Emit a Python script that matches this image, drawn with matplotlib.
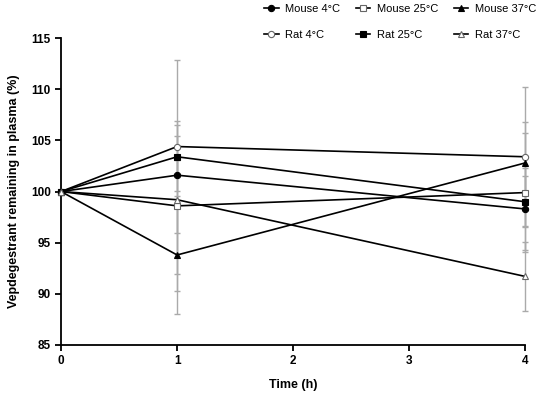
import matplotlib
matplotlib.use("Agg")
import matplotlib.pyplot as plt

plt.rcParams['font.family'] = ['Liberation Sans', 'DejaVu Sans']

time = [0, 1, 4]

mouse_4 = [100, 101.6, 98.3]
mouse_4_sd = [0, 1.5, 4.0]
mouse_25 = [100, 98.6, 99.9]
mouse_25_sd = [0, 8.3, 5.8]
mouse_37 = [100, 93.8, 102.8]
mouse_37_sd = [0, 5.8, 4.0]
rat_4 = [100, 104.4, 103.4]
rat_4_sd = [0, 8.5, 6.8]
rat_25 = [100, 103.4, 99.0]
rat_25_sd = [0, 2.0, 2.5]
rat_37 = [100, 99.2, 91.7]
rat_37_sd = [0, 7.3, 3.4]

series = [
    ("Mouse 4\u00b0C", mouse_4, mouse_4_sd, 'o', 'black'),
    ("Rat 4\u00b0C", rat_4, rat_4_sd, 'o', 'white'),
    ("Mouse 25\u00b0C", mouse_25, mouse_25_sd, 's', 'white'),
    ("Rat 25\u00b0C", rat_25, rat_25_sd, 's', 'black'),
    ("Mouse 37\u00b0C", mouse_37, mouse_37_sd, '^', 'black'),
    ("Rat 37\u00b0C", rat_37, rat_37_sd, '^', 'white'),
]

fig = plt.figure(figsize=(5.5, 3.97), dpi=100)
ax = fig.add_axes([0.111, 0.131, 0.844, 0.773])

for name, vals, sd, mk, fc in series:
    eb = ax.errorbar(time, vals, yerr=sd, fmt='none', ecolor='#aaaaaa',
                     elinewidth=1, capsize=2.5, capthick=1, zorder=1)
    for part in eb.lines[1] + eb.lines[2]:
        part.set_clip_on(False)
for name, vals, sd, mk, fc in series:
    ec = 'black' if fc == 'black' else '#666666'
    ax.plot(time, vals, color='black', lw=1.2, marker=mk, markersize=4.5,
            markerfacecolor=fc, markeredgecolor=ec, markeredgewidth=0.8,
            label=name, zorder=3, clip_on=False)

ax.set_xlim(0, 4)
ax.set_ylim(85, 115)
ax.set_xticks([0, 1, 2, 3, 4])
ax.set_yticks([85, 90, 95, 100, 105, 110, 115])
ax.spines['top'].set_visible(False)
ax.spines['right'].set_visible(False)
for s in ['left', 'bottom']:
    ax.spines[s].set_linewidth(1.3)
ax.tick_params(direction='out', length=4, width=1.3, labelsize=8.5)
for lab in ax.get_xticklabels() + ax.get_yticklabels():
    lab.set_fontweight('bold')
ax.set_xlabel("Time (h)", fontsize=9, fontweight='bold', labelpad=8)
ax.set_ylabel("Vepdegestrant remaining in plasma (%)", fontsize=9,
              fontweight='bold', labelpad=8)

fig.legend(loc='upper left', bbox_to_anchor=(0.462, 1.015), ncol=3,
           frameon=False, fontsize=8, handlelength=1.3, columnspacing=1.4,
           handletextpad=0.6, labelspacing=1.45)

fig.savefig("out.png", dpi=100)
